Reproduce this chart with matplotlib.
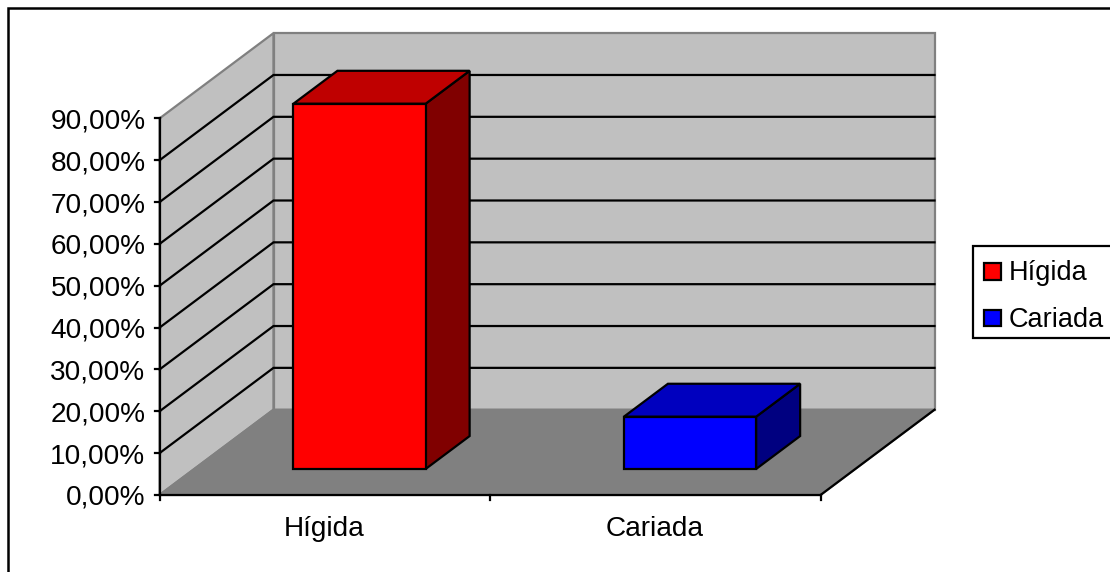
import matplotlib
matplotlib.use("Agg")
import matplotlib.pyplot as plt
from matplotlib.patches import Polygon, Rectangle

plt.rcParams['font.family'] = ['Liberation Sans', 'DejaVu Sans']

categories = ['Hígida', 'Cariada']
values = [87.3, 12.5]
tick_values = [0, 10, 20, 30, 40, 50, 60, 70, 80, 90]
tick_labels = ['0,00%', '10,00%', '20,00%', '30,00%', '40,00%', '50,00%',
               '60,00%', '70,00%', '80,00%', '90,00%']
face_colors = ['#FF0000', '#0000FF']
top_colors = ['#BF0000', '#0000BF']
side_colors = ['#800000', '#000080']

# Oblique projection of (category position, percent, depth) onto the canvas
X0, Y0 = 159.5, 495.0
CAT_W = 330.5
PCT_H = 4.184
DEPTH_X, DEPTH_Y = 114.0, -85.3
VMAX = 90
NCAT = len(categories)


def proj(c, v, d=0.0):
    return (X0 + c * CAT_W + d * DEPTH_X, Y0 - v * PCT_H + d * DEPTH_Y)


fig = plt.figure(figsize=(11.10, 5.72), dpi=100)
ax = fig.add_axes([0, 0, 1, 1])
ax.set_xlim(0, 1110)
ax.set_ylim(572, 0)
ax.axis('off')

LW = 1.6
FS = 20.2
# Outer chart frame runs past the right and bottom edges
ax.add_patch(Rectangle((8, 8), 1130, 590, fc='white', ec='black', lw=1.8, zorder=0))

# Walls and floor
wall_kw = dict(fc='#C0C0C0', ec='#808080', lw=LW, joinstyle='miter', zorder=1)
ax.add_patch(Polygon([proj(0, 0), proj(0, VMAX), proj(0, VMAX, 1), proj(0, 0, 1)], **wall_kw))
ax.add_patch(Polygon([proj(0, 0, 1), proj(0, VMAX, 1), proj(NCAT, VMAX, 1), proj(NCAT, 0, 1)], **wall_kw))
ax.add_patch(Polygon([proj(0, 0), proj(0, 0, 1), proj(NCAT, 0, 1), proj(NCAT, 0)],
                     fc='#808080', ec='#808080', lw=LW, zorder=2))

# Gridlines across both walls
for v in tick_values[1:-1]:
    pts = [proj(0, v), proj(0, v, 1), proj(NCAT, v, 1)]
    ax.plot(*zip(*pts), color='black', lw=LW, solid_joinstyle='miter', zorder=3)

# Axis lines
ax.plot(*zip(proj(0, 0), proj(0, VMAX)), color='black', lw=LW, zorder=4)
ax.plot(*zip(proj(0, 0), proj(NCAT, 0)), color='black', lw=LW, zorder=4)
ax.plot(*zip(proj(NCAT, 0), proj(NCAT, 0, 1)), color='black', lw=LW, zorder=4)

# Value ticks and labels
for v, lab in zip(tick_values, tick_labels):
    x, y = proj(0, v)
    ax.plot([x - 5, x], [y, y], color='black', lw=LW, zorder=4)
    ax.text(x - 14, y + 10, lab, ha='right', va='baseline', fontsize=FS, color='black')

# Category ticks and labels
for i in range(NCAT + 1):
    x, y = proj(i, 0)
    ax.plot([x, x], [y, y + 5], color='black', lw=LW, zorder=4)
for i, lab in enumerate(categories):
    x, y = proj(i + 0.5, 0)
    ax.text(x - 1, y + 41, lab, ha='center', va='baseline', fontsize=FS, color='black')

# 3D bars
BAR_W = 0.4
D0, D1 = 0.305, 0.691
for i, v in enumerate(values):
    c0 = i + 0.5 - BAR_W / 2
    c1 = c0 + BAR_W
    edge = dict(ec='black', lw=LW, joinstyle='miter', zorder=5)
    ax.add_patch(Polygon([proj(c1, 0, D0), proj(c1, v, D0), proj(c1, v, D1), proj(c1, 0, D1)],
                         fc=side_colors[i], **edge))
    ax.add_patch(Polygon([proj(c0, v, D0), proj(c0, v, D1), proj(c1, v, D1), proj(c1, v, D0)],
                         fc=top_colors[i], **edge))
    ax.add_patch(Polygon([proj(c0, 0, D0), proj(c0, v, D0), proj(c1, v, D0), proj(c1, 0, D0)],
                         fc=face_colors[i], **edge))

# Legend box, clipped by the right edge of the canvas
ax.add_patch(Rectangle((973, 246), 160, 92, fc='white', ec='black', lw=LW, zorder=6))
for lab, col, y in zip(categories, face_colors, [271, 317.5]):
    ax.add_patch(Rectangle((984, y - 8), 16.5, 16.5, fc=col, ec='black', lw=LW, zorder=7))
    ax.text(1009, y + 9.5, lab, ha='left', va='baseline', fontsize=19.5, color='black', zorder=7)

fig.savefig('out.png', dpi=100)
